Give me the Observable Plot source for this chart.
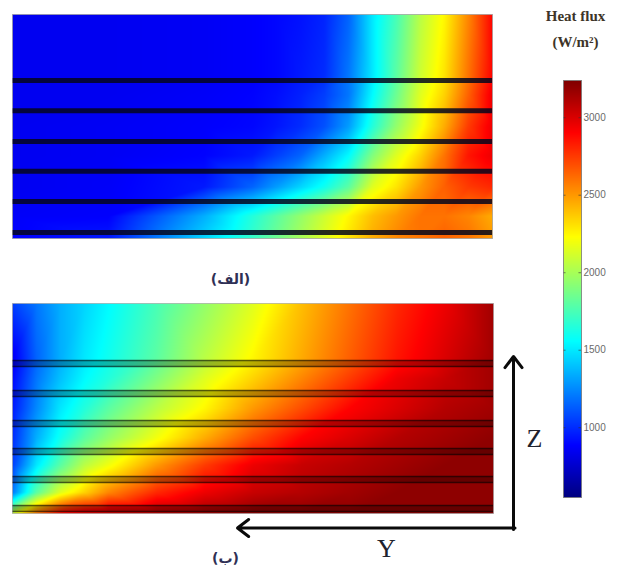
<!DOCTYPE html>
<html><head><meta charset="utf-8">
<script src="https://cdn.jsdelivr.net/npm/d3@7"></script>
<script src="https://cdn.jsdelivr.net/npm/@observablehq/plot@0.6"></script>
<style>
body{margin:0;background:#fff;}
#wrap{position:relative;width:625px;height:574px;overflow:hidden;background:#fff;}
</style></head><body><div id="wrap"></div>
<script>
// ---- Colour scale (jet), Heat flux in W/m² ----
const fluxMin = 550, fluxMax = 3240;
const jetColors = ["#00007f","#0000ff","#007fff","#00ffff","#7fff7f","#ffff00","#ff7f00","#ff0000","#7f0000"];
const colorbarTicks = [1000, 1500, 2000, 2500, 3000];

// ---- Panel (الف): columns along Y (0 = left, 1 = right), rows along Z (0 = top, 1 = bottom) ----
const colsA = [0, 0.2, 0.4, 0.5, 0.55, 0.6, 0.65, 0.7, 0.75, 0.8, 0.85, 0.9, 0.95, 1.0];
const rowsA = [0, 0.27, 0.36, 0.50, 0.63, 0.77, 0.90, 1.0];
const fluxA0 = [850, 850, 860, 880, 900, 930, 980, 1150, 1500, 1750, 2050, 2250, 2550, 2900];
const fluxA1 = [850, 850, 860, 880, 900, 950, 1000, 1200, 1500, 1800, 2100, 2300, 2600, 2900];
const fluxA2 = [850, 850, 870, 890, 920, 970, 1050, 1200, 1550, 1850, 2150, 2350, 2650, 2950];
const fluxA3 = [850, 860, 880, 900, 940, 1000, 1100, 1300, 1650, 1950, 2200, 2450, 2750, 2950];
const fluxA4 = [850, 860, 890, 950, 1050, 1150, 1350, 1550, 1900, 2150, 2350, 2600, 2850, 2950];
const fluxA5 = [850, 870, 950, 1150, 1300, 1450, 1600, 1800, 2150, 2300, 2500, 2650, 2750, 2800];
const fluxA6 = [870, 880, 1350, 1650, 1800, 1950, 2100, 2250, 2400, 2500, 2600, 2600, 2550, 2450];
const fluxA7 = [880, 950, 1450, 1700, 1850, 2000, 2150, 2300, 2450, 2550, 2600, 2650, 2600, 2500];
const tubesA = [0.295, 0.43, 0.567, 0.70, 0.835, 0.973];

// ---- Panel (ب) ----
const colsB = [0, 0.05, 0.1, 0.15, 0.2, 0.3, 0.4, 0.5, 0.6, 0.7, 0.8, 0.9, 1.0];
const rowsB = [0, 0.26, 0.36, 0.50, 0.64, 0.77, 0.90, 1.0];
const fluxB0 = [1050, 1200, 1350, 1450, 1550, 1750, 1950, 2150, 2400, 2600, 2800, 2950, 3150];
const fluxB1 = [850, 1150, 1350, 1500, 1600, 1800, 2050, 2250, 2450, 2650, 2850, 3000, 3150];
const fluxB2 = [900, 1200, 1400, 1550, 1650, 1900, 2150, 2350, 2550, 2750, 2950, 3050, 3150];
const fluxB3 = [950, 1250, 1500, 1650, 1800, 2050, 2250, 2500, 2700, 2900, 3000, 3100, 3150];
const fluxB4 = [1000, 1350, 1600, 1800, 1950, 2200, 2450, 2700, 2900, 3000, 3100, 3150, 3200];
const fluxB5 = [1050, 1500, 1800, 2050, 2200, 2500, 2750, 2950, 3050, 3100, 3150, 3200, 3200];
const fluxB6 = [1200, 1800, 2150, 2350, 2550, 2800, 2950, 3050, 3100, 3150, 3200, 3200, 3200];
const fluxB7 = [2100, 2600, 2900, 3000, 3050, 3100, 3150, 3200, 3200, 3200, 3200, 3200, 3200];
const tubesB = [0.286, 0.429, 0.571, 0.705, 0.838, 0.976];

// ---- Text ----
const labelA = "(الف)";
const labelB = "(ب)";
const cbTitle1 = "Heat flux";
const cbTitle2 = "(W/m²)";
const axisY = "Y", axisZ = "Z";

// ---- Build tables ----
function grid(cols, rows, rowVals) {
  const out = [];
  rows.forEach((z, i) => cols.forEach((x, j) => out.push({x, z, v: rowVals[i][j]})));
  return out;
}
const gridA = grid(colsA, rowsA, [fluxA0, fluxA1, fluxA2, fluxA3, fluxA4, fluxA5, fluxA6, fluxA7]);
const gridB = grid(colsB, rowsB, [fluxB0, fluxB1, fluxB2, fluxB3, fluxB4, fluxB5, fluxB6, fluxB7]);

const jetDomain = jetColors.map((_, i) => fluxMin + (fluxMax - fluxMin) * i / (jetColors.length - 1));
const colorOpts = {type: "linear", domain: jetDomain, range: jetColors, clamp: true};

const wrap = document.getElementById("wrap");
function place(svg, left, top) {
  svg.style.position = "absolute";
  svg.style.left = left + "px";
  svg.style.top = top + "px";
  svg.style.background = "transparent";
  svg.style.overflow = "visible";
  wrap.appendChild(svg);
}

// Panel (الف)
place(Plot.plot({
  width: 480, height: 224, margin: 0,
  x: {domain: [0, 1], axis: null},
  y: {domain: [0, 1], reverse: true, axis: null},
  color: colorOpts,
  marks: [
    Plot.raster(gridA, {x: "x", y: "z", fill: "v", interpolate: "barycentric", x1: 0, x2: 1, y1: 0, y2: 1}),
    Plot.ruleY(tubesA, {stroke: "#05061c", strokeWidth: 5, strokeOpacity: 0.85}),
    Plot.frame({stroke: "#9a9a9a", strokeOpacity: 0.7})
  ]
}), 12, 14);

// Panel (ب)
place(Plot.plot({
  width: 481, height: 210, margin: 0,
  x: {domain: [0, 1], axis: null},
  y: {domain: [0, 1], reverse: true, axis: null},
  color: colorOpts,
  marks: [
    Plot.raster(gridB, {x: "x", y: "z", fill: "v", interpolate: "barycentric", x1: 0, x2: 1, y1: 0, y2: 1}),
    Plot.ruleY(tubesB, {stroke: "#000", strokeWidth: 6, strokeOpacity: 0.28}),
    Plot.ruleY(tubesB, {stroke: "#000", strokeWidth: 1.5, strokeOpacity: 0.6, dy: -3}),
    Plot.ruleY(tubesB, {stroke: "#000", strokeWidth: 1.5, strokeOpacity: 0.6, dy: 3}),
    Plot.frame({stroke: "#9a9a9a", strokeOpacity: 0.6})
  ]
}), 12, 303);

// Colour bar
place(Plot.plot({
  width: 63, height: 427, marginTop: 5, marginBottom: 5, marginLeft: 0, marginRight: 45,
  style: {fontSize: "10px", fontFamily: "Liberation Sans, Arial, sans-serif", color: "#6a6a6a"},
  x: {domain: [0, 1], axis: null},
  y: {domain: [fluxMin, fluxMax], axis: "right", ticks: colorbarTicks, tickFormat: d3.format("d"), tickSize: 0, tickPadding: 2, label: null},
  color: colorOpts,
  marks: [
    Plot.raster({fill: (x, y) => y, x1: 0, x2: 1, y1: fluxMin, y2: fluxMax, pixelSize: 1}),
    Plot.ruleY(colorbarTicks, {x1: 0, x2: 0.14, stroke: "#333", strokeOpacity: 0.6}),
    Plot.ruleY(colorbarTicks, {x1: 0.86, x2: 1, stroke: "#333", strokeOpacity: 0.6}),
    Plot.frame({stroke: "#777", strokeOpacity: 0.8})
  ]
}), 563, 75);

// Annotation overlay: titles, panel labels, direction arrows
const arrows = [
  {x1: 513, y1: 529, x2: 513, y2: 356},
  {x1: 514.5, y1: 527.5, x2: 237, y2: 527.5}
];
const serif = "Liberation Serif, Times New Roman, serif";
place(Plot.plot({
  width: 625, height: 574, margin: 0,
  x: {domain: [0, 625], range: [0, 625], axis: null},
  y: {domain: [0, 574], range: [0, 574], axis: null},
  marks: [
    Plot.arrow(arrows, {x1: "x1", y1: "y1", x2: "x2", y2: "y2", stroke: "#0a0a0a", strokeWidth: 3, headLength: 7, headAngle: 75}),
    Plot.text([cbTitle1], {x: 575, y: 16, text: d => d, fontFamily: serif, fontWeight: "bold", fontSize: 15, fill: "#3d3428"}),
    Plot.text([cbTitle2], {x: 575, y: 42, text: d => d, fontFamily: serif, fontWeight: "bold", fontSize: 15, fill: "#3d3428"}),
    Plot.text([labelA], {x: 230, y: 279, text: d => d, fontFamily: "DejaVu Sans, sans-serif", fontWeight: "bold", fontSize: 14, fill: "#2f3055"}),
    Plot.text([labelB], {x: 225, y: 558, text: d => d, fontFamily: "DejaVu Sans, sans-serif", fontWeight: "bold", fontSize: 14, fill: "#2f3055"}),
    Plot.text([axisZ], {x: 534, y: 438, text: d => d, fontFamily: serif, fontSize: 26, fill: "#20222e"}),
    Plot.text([axisY], {x: 386, y: 548, text: d => d, fontFamily: serif, fontSize: 26, fill: "#20222e"})
  ]
}), 0, 0);
</script></body></html>
